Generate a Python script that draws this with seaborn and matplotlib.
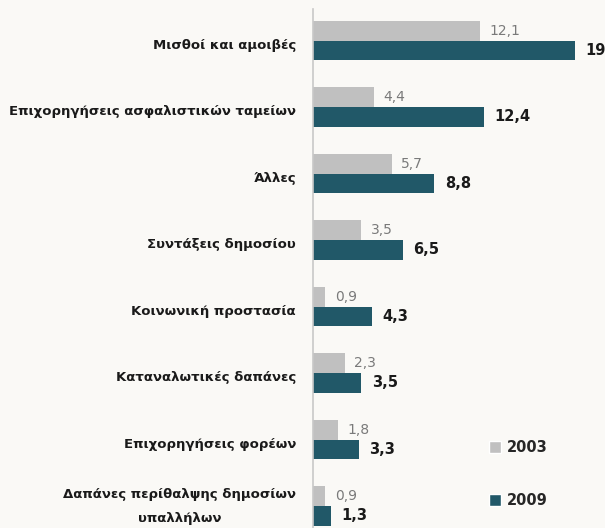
import matplotlib
matplotlib.use("Agg")
import matplotlib.pyplot as plt
import matplotlib.transforms as mtransforms
import seaborn as sns
import pandas as pd
from matplotlib.patches import Patch

categories = ["Μισθοί και αμοιβές", "Επιχορηγήσεις ασφαλιστικών ταμείων", "Άλλες",
              "Συντάξεις δημοσίου", "Κοινωνική προστασία", "Καταναλωτικές δαπάνες",
              "Επιχορηγήσεις φορέων", "Δαπάνες περίθαλψης δημοσίων\nυπαλλήλων"]
values_2003 = [12.1, 4.4, 5.7, 3.5, 0.9, 2.3, 1.8, 0.9]
values_2009 = [19, 12.4, 8.8, 6.5, 4.3, 3.5, 3.3, 1.3]
series = ["2003", "2009"]

df = pd.DataFrame({
    "cat": categories * 2,
    "val": values_2003 + values_2009,
    "year": [series[0]] * len(categories) + [series[1]] * len(categories),
})

bg = "#FAF9F6"
c03, c09 = "#C0C0C0", "#215868"
sns.set_theme(style="white")
plt.rcParams["font.family"] = ["DejaVu Sans"]

fig = plt.figure(figsize=(6.05, 5.28), dpi=100, facecolor=bg)
ax = fig.add_axes([313 / 605, 0.0, 292 / 605, 1 - 9 / 528])
ax.set_facecolor(bg)
sns.barplot(data=df, y="cat", x="val", hue="year", order=categories,
            hue_order=series, palette=[c03, c09], width=0.59, ax=ax,
            legend=False, saturation=1, orient="h", linewidth=0)

ax.set_xlim(0, 292 / 13.8)
ax.set_ylim(7.33, -0.474)
ax.set_xlabel("")
ax.set_ylabel("")
ax.set_xticks([])
ax.tick_params(axis="y", length=0, labelleft=False)
for s in ["top", "right", "bottom"]:
    ax.spines[s].set_visible(False)
ax.spines["left"].set_color("#c8c8c8")
ax.spines["left"].set_linewidth(1.2)

# category labels, right-aligned left of the axis
for i, cat in enumerate(categories):
    multi = "\n" in cat
    dy = 0 if multi else -3 / 100
    trans = mtransforms.blended_transform_factory(ax.transAxes, ax.transData) + \
        mtransforms.ScaledTranslation(-17 / 100, dy, fig.dpi_scale_trans)
    ax.text(0, i, cat, transform=trans, ha="right",
            va="center" if multi else "center_baseline",
            multialignment="center", linespacing=2.1, fontsize=9.5,
            fontweight="semibold", color="#1a1a1a")

def fmt(v):
    s = f"{v:g}"
    return s.replace(".", ",")

for i, cont in enumerate(ax.containers):
    labels = [fmt(v) for v in (values_2003 if i == 0 else values_2009)]
    if i == 0:
        ax.bar_label(cont, labels=labels, padding=7, fontsize=10, color="#7a7a7a")
    else:
        ax.bar_label(cont, labels=labels, padding=7.5, fontsize=10.5,
                     fontweight="bold", color="#1a1a1a")

handles = [Patch(facecolor=c03), Patch(facecolor=c09)]
fig.legend(handles, series, loc="upper left", bbox_to_anchor=(476 / 605, 1 - 427 / 528),
           frameon=False, prop={"weight": "bold", "size": 10.5},
           handlelength=0.8, handleheight=0.8, handletextpad=0.4, labelspacing=2.6)

fig.savefig("out.png", dpi=100, facecolor=bg)
